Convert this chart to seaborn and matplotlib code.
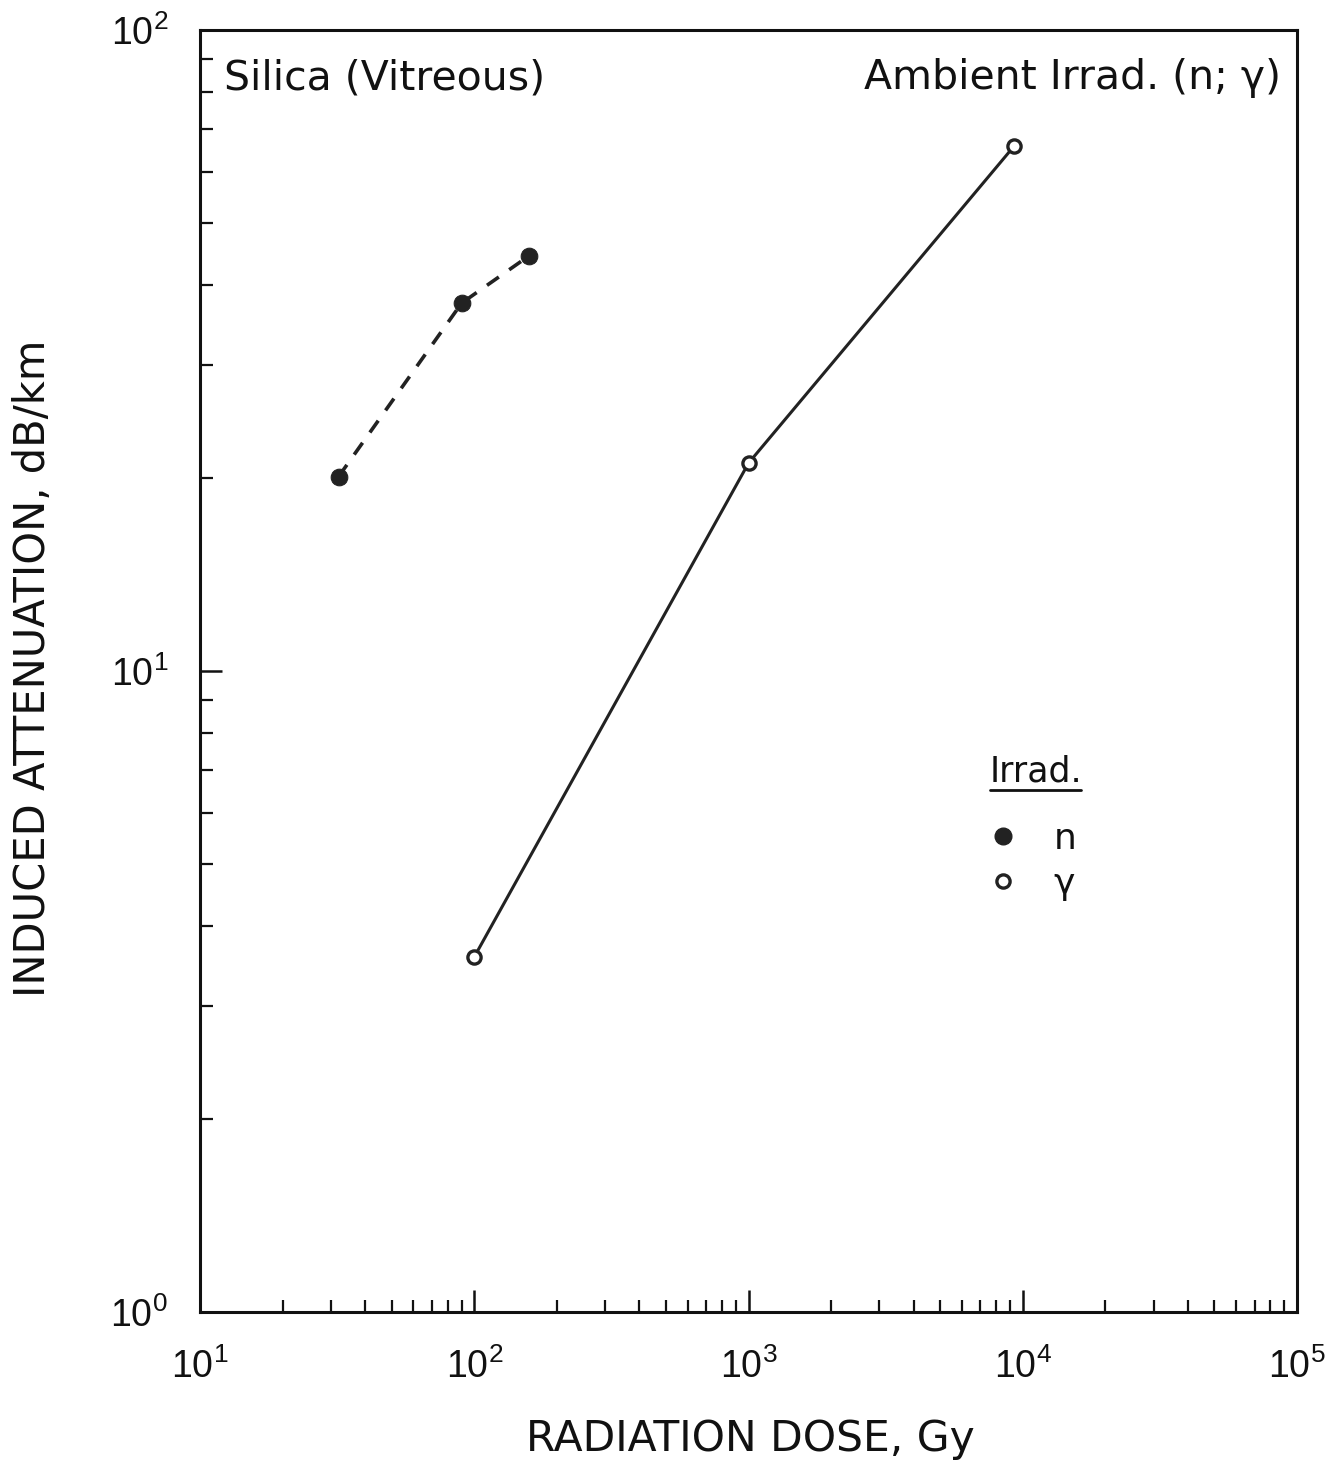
import matplotlib
matplotlib.use("Agg")
import matplotlib.pyplot as plt
import seaborn as sns
import pandas as pd
from matplotlib.lines import Line2D

# Data
n_dose = [32, 90, 158]
n_atten = [20.1, 37.5, 44.4]
g_dose = [100, 1000, 9300]
g_atten = [3.58, 21.1, 65.9]

sns.set_theme(style="white")
# tick labels (mathdefault) use font.family -> Liberation Sans; other text DejaVu Sans
plt.rcParams['font.family'] = ['Liberation Sans', 'DejaVu Sans']
TXT = ['DejaVu Sans']

INK = "#111111"

fig = plt.figure(figsize=(13.4, 14.68), dpi=100)
ax = fig.add_axes([200/1340, 1 - 1312/1468, (1297-200)/1340, (1312-30)/1468])

df_n = pd.DataFrame({"dose": n_dose, "att": n_atten})
df_g = pd.DataFrame({"dose": g_dose, "att": g_atten})

sns.lineplot(data=df_n, x="dose", y="att", ax=ax, color="#222222", lw=2.6,
             linestyle=(0, (4, 3.5)), marker="o", markersize=12,
             markerfacecolor="#222222", markeredgecolor="#222222")
sns.lineplot(data=df_g, x="dose", y="att", ax=ax, color="#222222", lw=2.2,
             marker="o", markersize=9.5, markerfacecolor="white",
             markeredgecolor="#222222", markeredgewidth=2.4)

ax.set_xscale("log")
ax.set_yscale("log")
ax.set_xlim(10, 1e5)
ax.set_ylim(1, 100)

for s in ax.spines.values():
    s.set_color(INK)
    s.set_linewidth(2.2)

ax.tick_params(axis="both", which="both", bottom=True, left=True, top=False, right=False)
ax.tick_params(axis="both", which="major", direction="in", length=16, width=1.8,
               colors=INK, labelsize=27)
ax.tick_params(axis="both", which="minor", direction="in", length=9, width=1.6,
               colors=INK)
ax.tick_params(axis="x", which="major", pad=26)
ax.tick_params(axis="y", which="major", pad=23)

ax.set_xlabel("RADIATION DOSE, Gy", fontsize=30.5, color=INK, family=TXT)
ax.set_ylabel("INDUCED ATTENUATION, dB/km", fontsize=30, color=INK, family=TXT)
ax.xaxis.set_label_coords((750-200)/1097, (1312-1418)/1282)
ax.yaxis.set_label_coords((54-200)/1097, (1312-668)/1282)

ax.text(0.022, 0.978, "Silica (Vitreous)", transform=ax.transAxes, fontsize=29.5,
        ha="left", va="top", color=INK, family=TXT)
ax.text(0.985, 0.978, "Ambient Irrad. (n; γ)", transform=ax.transAxes, fontsize=29.5,
        ha="right", va="top", color=INK, family=TXT)

# legend
handles = [
    Line2D([], [], linestyle="none", marker="o", markersize=12,
           markerfacecolor="#222222", markeredgecolor="#222222"),
    Line2D([], [], linestyle="none", marker="o", markersize=9.5,
           markerfacecolor="white", markeredgecolor="#222222", markeredgewidth=2.4),
]
leg = ax.legend(handles, ["n", "γ"], loc="upper left",
                bbox_to_anchor=((967-200)/1097, (1312-804)/1282),
                frameon=False, prop={"family": TXT, "size": 26},
                handlelength=1.0, handletextpad=0.9,
                labelspacing=0.3, borderpad=0)
for t in leg.get_texts():
    t.set_color(INK)
ax.text((990-200)/1097, (1312-772)/1282, "Irrad.", transform=ax.transAxes,
        fontsize=25, ha="left", va="center", color=INK, family=TXT)
ax.plot([(990-200)/1097, (1081-200)/1097], [(1312-790)/1282]*2,
        transform=ax.transAxes, color=INK, lw=2, clip_on=False)

fig.patch.set_facecolor("white")
fig.savefig("out.png", dpi=100, facecolor="white")
